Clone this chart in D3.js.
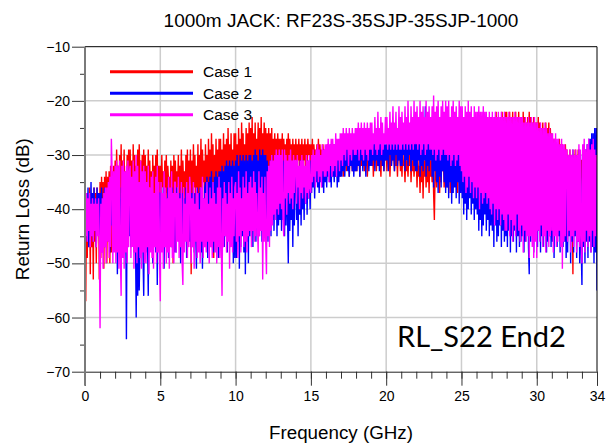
<!DOCTYPE html>
<html>
<head>
<meta charset="utf-8">
<script src="https://cdn.jsdelivr.net/npm/d3@7"></script>
<style>
  body { margin: 0; background: #fff; }
  svg { display: block; }
  text { font-family: "Liberation Sans", Arial, sans-serif; fill: #000; }
</style>
</head>
<body>
<svg id="chart" width="609" height="443"></svg>
<script>
// Sweep: 0 to 34 GHz, one reading every 0.05 GHz (681 readings per trace, 20 per row = 1 GHz)
const freqStart = 0;
const freqStep = 0.05;

const seriesNames = ["Case 1", "Case 2", "Case 3"];
const seriesColors = ["#ff0000", "#0000ff", "#ff00ff"];

// Return loss in dB, Case 1
const case1 = [
  -36,-57,-37,-49,-38,-45,-36,-52,-37,-47,-38,-53,-36,-46,-37,-50,-36,-44,-37,-53,
  -35,-49,-34,-45,-35,-51,-34,-47,-33,-50,-34,-46,-33,-50,-32,-48,-33,-44,-32,-46,
  -31,-40,-29,-37,-32,-43,-30,-38,-28,-41,-31,-36,-29,-44,-33,-39,-30,-37,-29,-42,
  -29,-38,-31,-41,-28,-36,-30,-43,-32,-37,-29,-40,-28,-35,-31,-42,-30,-38,-29,-41,
  -30,-37,-32,-42,-29,-36,-31,-39,-33,-44,-30,-37,-32,-40,-30,-35,-29,-41,-32,-38,
  -32,-39,-30,-36,-33,-42,-31,-37,-30,-40,-32,-35,-34,-41,-31,-38,-32,-50,-30,-37,
  -31,-39,-33,-36,-30,-43,-32,-37,-29,-40,-31,-36,-33,-42,-30,-38,-29,-47,-31,-37,
  -29,-52,-31,-38,-28,-36,-30,-41,-32,-37,-28,-43,-30,-36,-27,-39,-29,-35,-31,-41,
  -28,-37,-30,-42,-27,-36,-29,-39,-26,-35,-28,-49,-30,-38,-27,-35,-29,-40,-27,-36,
  -27,-39,-29,-35,-26,-41,-28,-36,-27,-38,-25,-34,-28,-40,-26,-36,-29,-37,-26,-35,
  -26,-35,-28,-40,-25,-34,-27,-37,-24,-33,-26,-39,-28,-35,-25,-38,-26,-34,-24,-36,
  -25,-33,-23,-37,-26,-34,-24,-36,-27,-32,-24,-38,-25,-33,-23,-35,-26,-32,-24,-34,
  -25,-34,-26,-32,-25,-36,-26,-33,-25,-35,-27,-32,-26,-34,-27,-33,-26,-31,-27,-35,
  -27,-32,-26,-35,-27,-31,-28,-34,-27,-32,-26,-33,-27,-31,-28,-34,-27,-32,-28,-33,
  -27,-33,-28,-31,-27,-34,-28,-32,-27,-33,-28,-31,-27,-35,-28,-32,-27,-30,-28,-33,
  -28,-32,-27,-34,-28,-31,-29,-33,-28,-32,-27,-34,-28,-31,-29,-33,-28,-32,-29,-34,
  -29,-33,-28,-31,-29,-34,-30,-32,-29,-33,-28,-32,-29,-34,-30,-31,-29,-33,-30,-34,
  -29,-32,-30,-34,-29,-31,-30,-33,-29,-32,-30,-34,-29,-31,-30,-33,-29,-32,-30,-33,
  -30,-33,-29,-31,-30,-34,-29,-32,-30,-31,-29,-33,-30,-32,-29,-34,-30,-31,-29,-32,
  -30,-32,-29,-34,-30,-31,-29,-33,-30,-32,-29,-31,-30,-34,-29,-32,-30,-33,-29,-31,
  -29,-33,-30,-31,-29,-34,-30,-32,-29,-31,-30,-33,-29,-32,-30,-34,-29,-31,-30,-33,
  -30,-34,-29,-32,-31,-35,-30,-33,-31,-34,-30,-32,-29,-35,-31,-33,-30,-34,-31,-32,
  -31,-36,-30,-34,-32,-37,-31,-35,-30,-38,-31,-34,-30,-36,-32,-35,-31,-37,-30,-34,
  -31,-35,-30,-37,-42,-33,-31,-36,-30,-34,-32,-37,-31,-35,-30,-33,-31,-36,-30,-34,
  -30,-36,-31,-34,-29,-37,-30,-33,-31,-36,-30,-35,-29,-34,-31,-37,-30,-33,-29,-35,
  -28,-34,-27,-33,-28,-35,-27,-32,-28,-34,-27,-33,-26,-35,-27,-32,-26,-34,-27,-33,
  -25,-33,-24,-31,-25,-34,-24,-30,-24,-32,-23,-33,-24,-31,-23,-34,-24,-30,-23,-32,
  -23,-31,-24,-29,-23,-32,-22,-30,-23,-31,-24,-29,-23,-32,-22,-30,-23,-31,-22,-29,
  -22,-30,-23,-28,-22,-31,-23,-29,-22,-30,-23,-28,-22,-31,-23,-29,-22,-30,-23,-29,
  -23,-29,-22,-31,-23,-28,-24,-30,-23,-29,-22,-31,-23,-28,-24,-30,-23,-29,-24,-31,
  -24,-30,-23,-32,-24,-29,-25,-31,-24,-33,-25,-30,-24,-32,-25,-31,-24,-33,-25,-30,
  -26,-33,-27,-35,-27,-32,-28,-36,-28,-34,-27,-33,-28,-35,-28,-34,-29,-36,-28,-33,
  -29,-37,-30,-35,-29,-36,-30,-34,-52,-30,-38,-29,-36,-30,-37,-29,-35,-30,-38,-31,
  -31,-38,-30,-36,-31,-40,-30,-37,-31,-39,-30,-36,-31,-38,-30,-40,-31,-37,-30,-39,
  -32
];

// Return loss in dB, Case 2
const case2 = [
  -36,-46,-37,-44,-36,-47,-38,-43,-35,-45,-37,-46,-36,-44,-38,-47,-36,-43,-37,-45,
  -37,-44,-36,-48,-38,-43,-36,-47,-37,-45,-38,-44,-36,-48,-37,-43,-36,-46,-38,-45,
  -36,-45,-37,-52,-36,-47,-38,-45,-36,-49,-37,-46,-38,-44,-37,-64,-36,-47,-38,-45,
  -37,-47,-38,-44,-36,-48,-37,-45,-60,-38,-56,-37,-55,-46,-38,-45,-37,-48,-56,-38,
  -37,-48,-36,-45,-56,-38,-46,-39,-47,-37,-50,-38,-45,-37,-48,-36,-54,-38,-46,-37,
  -37,-47,-38,-45,-36,-51,-37,-46,-38,-45,-36,-49,-37,-44,-38,-47,-36,-46,-37,-48,
  -37,-48,-36,-44,-38,-46,-37,-50,-36,-45,-37,-47,-38,-44,-36,-49,-37,-45,-38,-46,
  -36,-47,-37,-45,-36,-48,-37,-44,-51,-36,-46,-37,-45,-36,-48,-37,-51,-38,-46,-36,
  -35,-46,-34,-49,-35,-44,-34,-47,-33,-45,-35,-48,-34,-44,-33,-46,-34,-49,-33,-45,
  -33,-46,-32,-44,-33,-47,-32,-45,-31,-48,-32,-44,-31,-47,-32,-45,-31,-50,-32,-49,
  -31,-49,-30,-46,-32,-51,-30,-47,-31,-45,-30,-48,-31,-52,-30,-46,-31,-50,-30,-45,
  -30,-44,-31,-47,-30,-43,-29,-46,-30,-42,-31,-45,-29,-43,-30,-46,-29,-42,-30,-44,
  -30,-43,-31,-46,-32,-41,-31,-45,-30,-42,-32,-44,-31,-41,-32,-45,-31,-43,-32,-42,
  -31,-44,-32,-42,-31,-45,-33,-43,-32,-41,-50,-31,-44,-32,-42,-33,-47,-31,-43,-32,
  -32,-42,-31,-45,-33,-41,-31,-43,-32,-40,-31,-42,-33,-39,-32,-41,-31,-38,-32,-40,
  -31,-37,-30,-36,-31,-38,-30,-35,-31,-36,-30,-37,-31,-35,-30,-36,-29,-37,-30,-35,
  -29,-36,-30,-34,-29,-35,-28,-36,-29,-34,-30,-35,-28,-34,-29,-36,-28,-35,-29,-34,
  -28,-34,-29,-33,-28,-34,-29,-32,-28,-33,-29,-34,-28,-32,-29,-33,-28,-34,-29,-33,
  -28,-33,-27,-32,-28,-34,-27,-31,-28,-33,-27,-32,-28,-34,-27,-31,-28,-33,-27,-32,
  -27,-32,-28,-31,-27,-33,-28,-31,-27,-32,-28,-33,-27,-31,-28,-32,-27,-33,-28,-31,
  -28,-31,-27,-33,-28,-30,-27,-32,-28,-31,-27,-33,-28,-30,-27,-32,-28,-31,-27,-32,
  -27,-32,-28,-30,-27,-33,-26,-31,-27,-32,-28,-30,-27,-33,-26,-31,-27,-32,-26,-33,
  -26,-33,-25,-31,-26,-34,-25,-32,-24,-33,-25,-31,-21,-34,-25,-32,-24,-33,-25,-31,
  -24,-34,-25,-36,-24,-33,-25,-35,-24,-37,-25,-34,-24,-36,-25,-33,-24,-35,-23,-37,
  -23,-36,-24,-38,-23,-35,-24,-39,-23,-37,-24,-36,-23,-38,-24,-35,-23,-39,-24,-37,
  -23,-38,-24,-41,-23,-39,-25,-42,-24,-40,-23,-38,-24,-41,-25,-39,-24,-42,-23,-40,
  -24,-41,-25,-44,-24,-42,-25,-45,-24,-43,-25,-41,-24,-44,-25,-42,-24,-45,-25,-43,
  -25,-44,-24,-47,-25,-43,-26,-46,-25,-45,-24,-43,-25,-47,-26,-44,-25,-46,-26,-45,
  -25,-47,-26,-44,-25,-48,-26,-45,-25,-46,-26,-44,-25,-48,-26,-45,-25,-47,-26,-46,
  -26,-45,-25,-48,-26,-46,-25,-44,-26,-47,-52,-25,-46,-26,-44,-25,-48,-26,-45,-26,
  -26,-47,-27,-44,-26,-48,-27,-45,-28,-47,-27,-44,-26,-48,-27,-46,-28,-45,-27,-47,
  -28,-46,-29,-49,-29,-44,-30,-47,-30,-45,-29,-48,-30,-44,-29,-47,-30,-46,-30,-49,
  -31,-48,-30,-45,-31,-50,-30,-46,-29,-48,-30,-45,-31,-49,-30,-46,-29,-50,-30,-47,
  -54,-29,-47,-28,-50,-29,-46,-28,-49,-27,-46,-27,-48,-26,-47,-26,-50,-25,-48,-25,
  -55
];

// Return loss in dB, Case 3
const case3 = [
  -36,-45,-37,-46,-38,-44,-37,-47,-39,-45,-38,-46,-39,-44,-38,-47,-39,-45,-38,-46,
  -62,-39,-48,-38,-51,-37,-47,-36,-50,-36,-46,-35,-49,-34,-47,-27,-33,-50,-33,-48,
  -32,-50,-31,-48,-32,-51,-31,-49,-56,-32,-49,-31,-51,-33,-48,-32,-50,-31,-47,-33,
  -32,-49,-34,-47,-31,-51,-33,-48,-30,-50,-32,-47,-35,-49,-31,-51,-33,-48,-32,-50,
  -33,-50,-35,-47,-32,-52,-36,-48,-34,-49,-33,-51,-37,-47,-34,-50,-32,-48,-35,-49,
  -57,-35,-48,-37,-51,-33,-47,-36,-50,-38,-48,-34,-51,-36,-47,-33,-49,-37,-50,-35,
  -35,-48,-37,-46,-34,-49,-38,-47,-35,-50,-54,-36,-48,-39,-46,-35,-49,-37,-47,-34,
  -36,-50,-38,-47,-35,-51,-39,-46,-36,-49,-37,-48,-40,-50,-36,-46,-34,-49,-38,-47,
  -37,-48,-35,-46,-39,-50,-36,-47,-38,-49,-35,-46,-37,-48,-39,-50,-36,-47,-34,-49,
  -36,-47,-56,-38,-47,-35,-45,-37,-48,-39,-46,-35,-51,-37,-47,-34,-48,-38,-45,-36,
  -35,-46,-37,-49,-33,-45,-36,-48,-38,-44,-34,-47,-36,-46,-33,-48,-37,-45,-35,-44,
  -34,-47,-36,-44,-33,-46,-35,-45,-37,-43,-48,-33,-45,-36,-44,-34,-53,-37,-46,-34,
  -46,-52,-33,-45,-32,-47,-31,-44,-30,-43,-31,-41,-30,-42,-29,-40,-30,-41,-29,-39,
  -30,-40,-29,-42,-45,-29,-38,-30,-41,-31,-37,-30,-39,-29,-38,-31,-40,-30,-37,-31,
  -31,-39,-30,-36,-32,-40,-31,-37,-30,-38,-31,-36,-32,-39,-30,-37,-31,-38,-30,-36,
  -37,-30,-35,-29,-34,-30,-36,-29,-33,-28,-35,-29,-34,-30,-36,-28,-33,-29,-34,-28,
  -34,-28,-33,-27,-35,-28,-32,-27,-34,-27,-33,-28,-32,-26,-34,-27,-31,-27,-33,-26,
  -31,-26,-32,-25,-30,-26,-31,-25,-29,-26,-32,-25,-30,-26,-31,-25,-29,-26,-30,-25,
  -30,-25,-29,-24,-31,-25,-29,-24,-30,-25,-31,-24,-29,-25,-30,-24,-31,-25,-29,-24,
  -29,-24,-30,-26,-28,-23,-29,-25,-30,-22,-29,-25,-28,-23,-30,-24,-29,-26,-28,-23,
  -28,-23,-29,-25,-28,-22,-29,-24,-28,-21,-29,-24,-28,-22,-29,-25,-28,-21,-29,-23,
  -29,-22,-28,-24,-29,-21,-28,-23,-29,-20,-28,-24,-29,-21,-28,-23,-29,-20,-28,-22,
  -28,-21,-29,-23,-28,-20,-30,-22,-29,-21,-28,-23,-30,-20,-29,-22,-28,-21,-29,-23,
  -29,-21,-30,-19,-29,-22,-31,-21,-30,-20,-29,-23,-31,-21,-30,-20,-29,-22,-30,-20,
  -30,-21,-31,-20,-30,-23,-32,-21,-31,-20,-30,-22,-32,-21,-31,-23,-30,-20,-32,-21,
  -33,-21,-35,-23,-34,-21,-37,-22,-36,-20,-34,-22,-37,-21,-35,-23,-38,-21,-36,-22,
  -38,-22,-36,-21,-40,-22,-37,-22,-39,-21,-38,-22,-37,-22,-39,-23,-38,-22,-40,-23,
  -41,-22,-39,-23,-43,-22,-40,-23,-42,-22,-40,-23,-43,-22,-41,-23,-42,-22,-44,-23,
  -44,-23,-41,-22,-45,-23,-42,-23,-46,-23,-43,-22,-45,-23,-41,-23,-44,-23,-46,-23,
  -43,-23,-48,-24,-44,-23,-46,-24,-45,-23,-49,-24,-45,-23,-47,-24,-49,-23,-46,-24,
  -49,-24,-44,-25,-46,-24,-43,-25,-47,-25,-45,-24,-48,-25,-44,-26,-47,-25,-45,-26,
  -44,-26,-48,-27,-45,-26,-47,-27,-46,-27,-44,-28,-47,-27,-51,-28,-46,-28,-45,-29,
  -29,-46,-30,-44,-29,-48,-30,-45,-29,-47,-30,-44,-29,-48,-30,-46,-28,-47,-29,-45,
  -50,-28,-46,-27,-48,-29,-44,-28,-47,-27,-45,-29,-48,-28,-44,-27,-47,-29,-45,-30,
  -31
];

const series = [case1, case2, case3];

const xMajorTicks = [0, 5, 10, 15, 20, 25, 30, 34];
const xMinorTicks = d3.range(0, 35, 1);
const yMajorTicks = [-70, -60, -50, -40, -30, -20, -10];
const yMinorTicks = [-65, -55, -45, -35, -25, -15];
const xGridValues = [5, 10, 15, 20, 25, 30];
const yGridValues = [-60, -50, -40, -30, -20];

const titleText = "1000m JACK: RF23S-35SJP-35SJP-1000";
const xLabel = "Frequency (GHz)";
const yLabel = "Return Loss (dB)";
const noteText = "RL_S22 End2";

const W = 609, H = 443;
const margin = { top: 46.7, right: 12, bottom: 71.3, left: 85 };
const iw = W - margin.left - margin.right;
const ih = H - margin.top - margin.bottom;

const svg = d3.select("#chart");
const g = svg.append("g").attr("transform", `translate(${margin.left},${margin.top})`);

const x = d3.scaleLinear().domain([0, 34]).range([0, iw]);
const y = d3.scaleLinear().domain([-70, -10]).range([ih, 0]);

// grid
g.append("g").selectAll("line").data(xGridValues).join("line")
  .attr("x1", d => x(d)).attr("x2", d => x(d))
  .attr("y1", 0).attr("y2", ih)
  .attr("stroke", "#cdcdcd").attr("stroke-width", 1.5);
g.append("g").selectAll("line").data(yGridValues).join("line")
  .attr("x1", 0).attr("x2", iw)
  .attr("y1", d => y(d)).attr("y2", d => y(d))
  .attr("stroke", "#cdcdcd").attr("stroke-width", 1.5);

// traces, drawn Case 1 first so Case 3 ends up on top
g.append("clipPath").attr("id", "plotClip")
  .append("rect").attr("width", iw).attr("height", ih);

const line = d3.line()
  .x((d, i) => x(freqStart + i * freqStep))
  .y(d => y(d));

g.append("g").attr("clip-path", "url(#plotClip)")
  .selectAll("path").data(series).join("path")
  .attr("d", d => line(d))
  .attr("fill", "none")
  .attr("stroke", (d, i) => seriesColors[i])
  .attr("stroke-width", 1.4)
  .attr("stroke-linejoin", "bevel");

// frame: top and right in black
g.append("line").attr("x1", 0).attr("x2", iw).attr("y1", 0).attr("y2", 0)
  .attr("stroke", "#000").attr("stroke-width", 1);
g.append("line").attr("x1", iw).attr("x2", iw).attr("y1", 0).attr("y2", ih)
  .attr("stroke", "#000").attr("stroke-width", 1);

// bottom axis
const xAxisMinor = d3.axisBottom(x).tickValues(xMinorTicks).tickSize(7).tickFormat("");
const xAxisMajor = d3.axisBottom(x).tickValues(xMajorTicks).tickSize(14).tickPadding(5)
  .tickFormat(d3.format("d"));
const gxm = g.append("g").attr("transform", `translate(0,${ih})`).call(xAxisMinor);
const gx = g.append("g").attr("transform", `translate(0,${ih})`).call(xAxisMajor);
[gxm, gx].forEach(a => {
  a.select(".domain").attr("stroke", "#222");
  a.selectAll(".tick line").attr("stroke", "#333");
});
gxm.select(".domain").remove();
gx.selectAll(".tick text").attr("font-size", 14).attr("fill", "#000")
  .style("font-family", '"Liberation Sans", Arial, sans-serif');

// left axis
const yAxisMinor = d3.axisLeft(y).tickValues(yMinorTicks).tickSize(5).tickFormat("");
const yAxisMajor = d3.axisLeft(y).tickValues(yMajorTicks).tickSize(13).tickPadding(2)
  .tickFormat(d3.format("d"));
const gym = g.append("g").call(yAxisMinor);
const gy = g.append("g").call(yAxisMajor);
gym.select(".domain").remove();
gy.select(".domain").remove();
[gym, gy].forEach(a => a.selectAll(".tick line").attr("stroke", "#333"));
gy.selectAll(".tick text").attr("font-size", 14).attr("fill", "#000")
  .style("font-family", '"Liberation Sans", Arial, sans-serif');
g.append("line").attr("x1", 0).attr("x2", 0).attr("y1", 0).attr("y2", ih + 14)
  .attr("stroke", "#7a7a7a").attr("stroke-width", 2);

// legend
const legend = g.append("g").attr("transform", "translate(25,25)");
seriesNames.forEach((name, i) => {
  const row = legend.append("g").attr("transform", `translate(0,${i * 21.5})`);
  row.append("line").attr("x1", 0).attr("x2", 83).attr("y1", 0).attr("y2", 0)
    .attr("stroke", seriesColors[i]).attr("stroke-width", 3);
  row.append("text").attr("x", 93).attr("y", 5.5).attr("font-size", 15.5).text(name);
});

// titles
svg.append("text").attr("x", margin.left + iw / 2).attr("y", 27)
  .attr("text-anchor", "middle").attr("font-size", 19).text(titleText);
svg.append("text").attr("x", margin.left + iw / 2).attr("y", 439)
  .attr("text-anchor", "middle").attr("font-size", 18.8).text(xLabel);
svg.append("text")
  .attr("transform", `translate(29,${margin.top + ih / 2}) rotate(-90)`)
  .attr("text-anchor", "middle").attr("font-size", 18.8).text(yLabel);

// annotation
svg.append("text").attr("x", 397).attr("y", 347)
  .style("font-family", 'Lato, "Open Sans", sans-serif')
  .attr("font-size", 29).text(noteText);
</script>
</body>
</html>
